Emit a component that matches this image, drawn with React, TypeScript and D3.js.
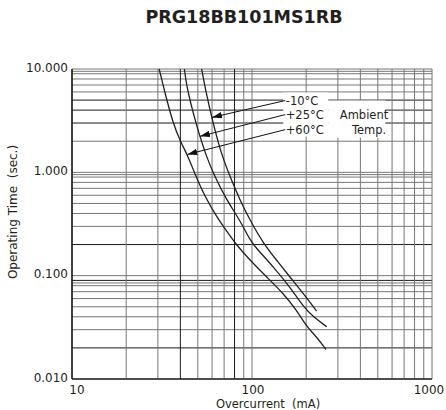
import React from 'react';
import * as d3 from 'd3';

const title = 'PRG18BB101MS1RB';
const xLabel = 'Overcurrent  (mA)';
const yLabel = 'Operating Time  (sec.)';

const xTicks = [10, 100, 1000];
const xTickLabels = ['10', '100', '1000'];
const yTicks = [10, 1, 0.1, 0.01];
const yTickLabels = ['10.000', '1.000', '0.100', '0.010'];

const xGrid = [10, 20, 30, 40, 50, 60, 70, 80, 90, 100, 200, 300, 400, 500, 600, 700, 800, 900, 1000];
const yGrid = [
  10, 9.5, 9, 8, 7, 6, 5, 4, 3, 2,
  1, 0.95, 0.9, 0.8, 0.7, 0.6, 0.5, 0.4, 0.3, 0.2,
  0.1, 0.09, 0.085, 0.08, 0.07, 0.06, 0.05, 0.04, 0.03, 0.02, 0.01,
];
const xGridDark = [10, 40, 80];
const yGridDark = [0.01, 5, 4, 3, 0.2, 0.09, 0.02];

// [current mA, time s]
const curveM10: [number, number][] = [
  [52.5, 10], [55.5, 6.0], [59.7, 3.43], [66.4, 1.64], [75.5, 0.904], [85.8, 0.537],
  [97.5, 0.344], [115.6, 0.205], [137, 0.141], [162.5, 0.097], [192.8, 0.0673], [228.6, 0.0454],
];
const curveP25: [number, number][] = [
  [42.1, 10], [43.4, 6.7], [47.2, 3.7], [51.4, 2.2], [56.0, 1.41], [61.0, 0.974], [72.3, 0.537],
  [85.8, 0.344], [97.5, 0.22], [106.1, 0.183], [131.3, 0.122], [162.5, 0.078], [192.8, 0.0499],
  [219, 0.04], [260, 0.032],
];
const curveP60: [number, number][] = [
  [30.5, 10], [32.9, 5.78], [36.5, 2.96], [39.8, 2.03], [44.3, 1.41], [47.2, 1.05], [54.8, 0.578],
  [63.7, 0.371], [73.9, 0.256], [82.2, 0.197], [97.5, 0.141], [120.7, 0.097], [149.3, 0.0673],
  [177, 0.0464], [201, 0.032], [228.6, 0.0256], [257.7, 0.0193],
];
const curves = [curveM10, curveP25, curveP60];

const annLabels = ['-10°C', '+25°C', '+60°C'];
// label anchor (mA, s) and arrow tip (mA, s)
const annAnchors: [number, number][] = [[153, 4.95], [153, 3.62], [153, 2.59]];
const annTips: [number, number][] = [[59.9, 3.4], [51.4, 2.23], [43.7, 1.49]];
const ambientLines = ['Ambient', 'Temp.'];

const W = 446;
const H = 410;
const M = { left: 72, right: 14, top: 69, bottom: 31 };

export default function App() {
  const x = d3.scaleLog().domain([10, 1000]).range([M.left, W - M.right]);
  const y = d3.scaleLog().domain([0.01, 10]).range([H - M.bottom, M.top]);
  const line = d3
    .line<[number, number]>()
    .x((d) => x(d[0]))
    .y((d) => y(d[1]))
    .curve(d3.curveBasis);

  const font = '"DejaVu Sans", sans-serif';
  const gridGray = '#767676';
  const ink = '#231f20';

  const ax0 = x(annAnchors[0][0]);
  const ayTop = y(annAnchors[0][1]);
  const ayBot = y(annAnchors[2][1]);

  return (
    <svg
      width={W}
      height={H}
      style={{ position: 'absolute', left: 0, top: 0, background: '#fff' }}
      fontFamily={font}
    >
      <defs>
        <marker
          id="arr"
          markerUnits="userSpaceOnUse"
          markerWidth={11}
          markerHeight={7}
          refX={10}
          refY={3.5}
          orient="auto"
        >
          <path d="M0,0.3 L10,3.5 L0,6.7 Z" fill="#111" />
        </marker>
      </defs>
      <rect x={0} y={0} width={W} height={H} fill="#fff" />
      <text
        x={244}
        y={17}
        textAnchor="middle"
        dominantBaseline="central"
        fontSize={17.5}
        fontWeight="bold"
        fill={ink}
      >
        {title}
      </text>

      {/* grid */}
      {yGrid.map((v, i) => (
        <line
          key={'gy' + i}
          x1={x(10)}
          x2={x(1000)}
          y1={y(v)}
          y2={y(v)}
          stroke={yGridDark.includes(v) ? '#1a1a1a' : gridGray}
          strokeWidth={1}
        />
      ))}
      {xGrid.map((v, i) => (
        <line
          key={'gx' + i}
          x1={x(v)}
          x2={x(v)}
          y1={y(10)}
          y2={y(0.01)}
          stroke={xGridDark.includes(v) ? '#1a1a1a' : gridGray}
          strokeWidth={1}
        />
      ))}

      {/* curves */}
      {curves.map((c, i) => (
        <path key={'c' + i} d={line(c) || ''} fill="none" stroke={ink} strokeWidth={1.3} />
      ))}

      {/* annotation boxes */}
      <rect x={ax0 - 2} y={ayTop - 8} width={45} height={ayBot - ayTop + 15} fill="#fff" />
      <rect x={ax0 + 43} y={ayTop} width={57} height={ayBot - ayTop + 8} fill="#fff" />

      {annLabels.map((t, i) => (
        <g key={'a' + i}>
          <line
            x1={x(annAnchors[i][0])}
            y1={y(annAnchors[i][1])}
            x2={x(annTips[i][0])}
            y2={y(annTips[i][1])}
            stroke="#111"
            strokeWidth={1}
            markerEnd="url(#arr)"
          />
          <text
            x={x(annAnchors[i][0]) + 0.5}
            y={y(annAnchors[i][1])}
            dominantBaseline="central"
            fontSize={11.5}
            fill={ink}
          >
            {t}
          </text>
        </g>
      ))}
      <text x={ax0 + 103} y={y(annAnchors[1][1])} textAnchor="end" dominantBaseline="central" fontSize={11.5} fill={ink}>
        {ambientLines[0]}
      </text>
      <text x={ax0 + 101} y={y(annAnchors[2][1])} textAnchor="end" dominantBaseline="central" fontSize={11.5} fill={ink}>
        {ambientLines[1]}
      </text>

      {/* axes lines */}
      <line x1={x(10)} x2={x(10)} y1={y(10)} y2={y(0.01)} stroke="#111" strokeWidth={1.2} />
      <line x1={x(10)} x2={x(1000)} y1={y(0.01)} y2={y(0.01)} stroke="#111" strokeWidth={1.2} />

      {/* tick labels */}
      {yTicks.map((v, i) => (
        <text
          key={'yt' + i}
          x={M.left - 4}
          y={y(v) - 1.5}
          textAnchor="end"
          dominantBaseline="central"
          fontSize={12}
          fill={ink}
        >
          {yTickLabels[i]}
        </text>
      ))}
      {xTicks.map((v, i) => (
        <text
          key={'xt' + i}
          x={x(v) + (i === 0 ? 5 : i === xTicks.length - 1 ? -3 : 1)}
          y={390}
          textAnchor="middle"
          dominantBaseline="central"
          fontSize={12}
          fill={ink}
        >
          {xTickLabels[i]}
        </text>
      ))}
      <text x={268} y={404} textAnchor="middle" dominantBaseline="central" fontSize={11.5} fill={ink} xmlSpace="preserve">
        {xLabel}
      </text>
      <text
        transform={`translate(13,212) rotate(-90)`}
        textAnchor="middle"
        dominantBaseline="central"
        fontSize={12}
        fill={ink}
        xmlSpace="preserve"
      >
        {yLabel}
      </text>
    </svg>
  );
}
